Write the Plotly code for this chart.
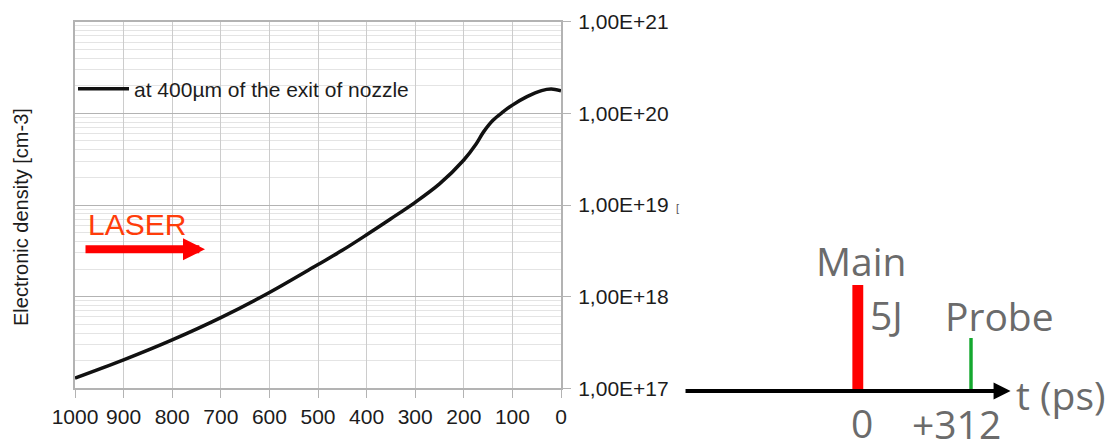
import plotly.graph_objects as go

# Electron density profile along the laser axis
distance_um = [1000, 900, 800, 700, 600, 500, 450, 400, 350, 300, 250,
               200, 175, 160, 140, 120, 100, 70, 40, 20, 0]
density_cm3 = [1.29e17, 2.04e17, 3.37e17, 5.9e17, 1.11e18, 2.24e18, 3.2e18, 4.73e18, 7.08e18, 1.07e19, 1.7e19,
               3.1e19, 4.6e19, 6.2e19, 8.4e19, 1.03e20, 1.23e20, 1.52e20, 1.77e20, 1.84e20, 1.76e20]
series_name = "at 400µm of the exit of nozzle"

x_tick_vals = [1000, 900, 800, 700, 600, 500, 400, 300, 200, 100, 0]
y_tick_vals = [1e17, 1e18, 1e19, 1e20, 1e21]
y_tick_text = ["1,00E+17", "1,00E+18", "1,00E+19", "1,00E+20", "1,00E+21"]

# Pulse timing diagram
pulse_names = ["Main", "Probe"]
pulse_times_ps = [0, 312]
pulse_heights = [1.0, 0.5]
pulse_widths_ps = [30, 9.5]
pulse_colors = ["#ff0000", "#14a82e"]
pulse_time_labels = ["0", "+312"]
main_energy = "5J"
time_axis_ps = [-479, 421]

W, H = 1108, 441
TXT = "#1c1c1c"
GREY = "#6b6b6b"
LEFT_FONT = "Liberation Sans"
RIGHT_FONT = "Open Sans"
RSIZE = 39

fig = go.Figure()

fig.add_trace(go.Scatter(
    x=distance_um, y=density_cm3, mode="lines", name=series_name,
    line=dict(color="#111111", width=3.5, shape="spline", smoothing=0.9),
    xaxis="x", yaxis="y",
))

fig.add_trace(go.Bar(
    x=pulse_times_ps, y=pulse_heights, width=pulse_widths_ps,
    marker=dict(color=pulse_colors, line=dict(width=0)),
    xaxis="x2", yaxis="y2", showlegend=False, hoverinfo="skip",
))

annotations = [
    # y-axis title on the left
    dict(text="Electronic density [cm-3]", xref="paper", yref="paper",
         x=21 / W, y=(H - 217) / H, xanchor="center", yanchor="middle",
         textangle=-90, showarrow=False,
         font=dict(family=LEFT_FONT, size=20, color=TXT)),
    dict(text="LASER", xref="paper", yref="paper",
         x=136.5 / W, y=(H - 224) / H, xanchor="center", yanchor="middle",
         showarrow=False, font=dict(family=LEFT_FONT, size=30, color="#ff3c0a")),
    dict(text="", xref="paper", yref="paper", x=205 / W, y=(H - 249.3) / H,
         ax=-121, ay=0, showarrow=True, arrowhead=2, arrowwidth=8,
         arrowsize=0.55, arrowcolor="#ff0000"),
    dict(text="[", xref="paper", yref="paper", x=677 / W, y=(H - 208) / H,
         showarrow=False, font=dict(family=LEFT_FONT, size=11, color="#555555")),
    # time axis
    dict(text="", xref="x2", yref="y2", axref="x2", ayref="y2",
         x=time_axis_ps[1], y=0, ax=time_axis_ps[0], ay=0,
         showarrow=True, arrowhead=2, arrowwidth=4, arrowsize=0.85,
         arrowcolor="#000000"),
    dict(text="t (ps)", xref="x2", yref="y2", x=time_axis_ps[1], y=0,
         xanchor="left", yanchor="middle", xshift=3, yshift=-3, showarrow=False,
         font=dict(family=RIGHT_FONT, size=RSIZE, color=GREY)),
    dict(text=main_energy, xref="x2", yref="y2", x=pulse_times_ps[0], y=pulse_heights[0],
         xanchor="left", yanchor="middle", xshift=10, yshift=-29, showarrow=False,
         font=dict(family=RIGHT_FONT, size=RSIZE, color=GREY)),
]

name_shifts = [(4, 25), (28, 23)]
label_shifts = [(4, -31), (-15, -32)]
for name, t, h, lab, (nx, ny), (lx, ly) in zip(pulse_names, pulse_times_ps, pulse_heights,
                                                 pulse_time_labels, name_shifts, label_shifts):
    annotations.append(dict(text=name, xref="x2", yref="y2", x=t, y=h,
                            xanchor="center", yanchor="middle", xshift=nx, yshift=ny,
                            showarrow=False, font=dict(family=RIGHT_FONT, size=RSIZE, color=GREY)))
    annotations.append(dict(text=lab, xref="x2", yref="y2", x=t, y=0,
                            xanchor="center", yanchor="middle", xshift=lx, yshift=ly,
                            showarrow=False, font=dict(family=RIGHT_FONT, size=RSIZE, color=GREY)))

x0, x1 = 75 / W, 561 / W
y0, y1 = (H - 388.3) / H, (H - 21.7) / H

fig.update_layout(
    width=W, height=H, margin=dict(l=0, r=0, t=0, b=0, autoexpand=False),
    paper_bgcolor="white", plot_bgcolor="white",
    showlegend=True,
    legend=dict(x=73 / W, y=(H - 89) / H, xanchor="left", yanchor="middle",
                bgcolor="rgba(0,0,0,0)", borderwidth=0, itemwidth=51,
                font=dict(family=LEFT_FONT, size=21, color=TXT)),
    xaxis=dict(domain=[x0, x1], range=[1000, 0], tickvals=x_tick_vals,
               ticks="outside", ticklen=8, tickcolor="#b3b3b3", tickwidth=1,
               showgrid=True, gridcolor="#cccccc", gridwidth=1,
               showline=True, linecolor="#b3b3b3", linewidth=2, mirror=True,
               zeroline=False, anchor="y", automargin=False,
               tickfont=dict(family=LEFT_FONT, size=21, color=TXT)),
    yaxis=dict(type="log", domain=[y0, y1], range=[17, 21], side="right",
               tickvals=y_tick_vals, ticktext=y_tick_text,
               ticks="outside", ticklen=8, tickcolor="#b3b3b3", ticklabelstandoff=3,
               showgrid=True, gridcolor="#b3b3b3", gridwidth=1,
               minor=dict(dtick="D1", showgrid=True, gridcolor="#e4e4e4", ticks=""),
               showline=True, linecolor="#b3b3b3", linewidth=2, mirror=True,
               zeroline=False, anchor="x", automargin=False,
               tickfont=dict(family=LEFT_FONT, size=21, color=TXT)),
    xaxis2=dict(domain=[0.6, 1.0], range=[-532, 689.6], visible=False, anchor="y2"),
    yaxis2=dict(domain=[0, 1], range=[-0.4717, 3.689], visible=False, anchor="x2"),
    annotations=annotations,
)

fig.write_html("out.html")
